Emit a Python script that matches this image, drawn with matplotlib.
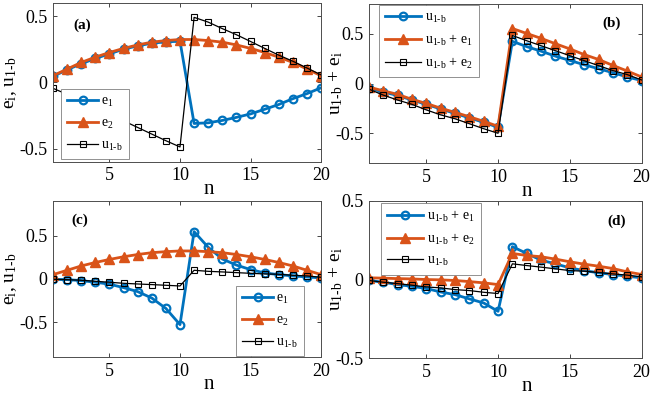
import numpy as np
import matplotlib
matplotlib.use("Agg")
import matplotlib.pyplot as plt
from matplotlib.ticker import FuncFormatter

plt.rcParams['font.family'] = ['Liberation Serif', 'DejaVu Serif']
plt.rcParams['mathtext.fontset'] = 'custom'
plt.rcParams['mathtext.rm'] = 'Liberation Serif'
plt.rcParams['mathtext.it'] = 'Liberation Serif:italic'
plt.rcParams['mathtext.bf'] = 'Liberation Serif:bold'

n = np.arange(1, 21)

# panel (a)
a_e1 = [0.045, 0.095, 0.14, 0.18, 0.215, 0.25, 0.275, 0.295, 0.305, 0.31,
        -0.31, -0.305, -0.287, -0.264, -0.238, -0.203, -0.167, -0.123, -0.085, -0.041]
e2 = [0.05, 0.10, 0.15, 0.19, 0.225, 0.256, 0.282, 0.303, 0.315, 0.323,
      0.323, 0.315, 0.303, 0.282, 0.256, 0.225, 0.19, 0.15, 0.10, 0.05]
a_u = [-0.045, -0.09, -0.14, -0.19, -0.24, -0.29, -0.34, -0.39, -0.44, -0.487,
       0.49, 0.454, 0.405, 0.359, 0.308, 0.256, 0.205, 0.159, 0.108, 0.056]

# panel (b)
b_u = [-0.045, -0.085, -0.12, -0.165, -0.21, -0.255, -0.30, -0.345, -0.39, -0.44,
       0.424, 0.371, 0.325, 0.275, 0.232, 0.189, 0.149, 0.109, 0.066, 0.03]
b_ue1 = [-0.036, -0.073, -0.109, -0.159, -0.2, -0.248, -0.29, -0.334, -0.38, -0.43,
         0.553, 0.503, 0.454, 0.4, 0.348, 0.291, 0.242, 0.182, 0.126, 0.066]
b_ue2 = [-0.056, -0.116, -0.166, -0.209, -0.265, -0.315, -0.354, -0.404, -0.454, -0.5,
         0.483, 0.43, 0.38, 0.33, 0.28, 0.23, 0.18, 0.13, 0.09, 0.036]

# panel (c)
c_e1 = [-0.004, -0.008, -0.019, -0.038, -0.06, -0.1, -0.146, -0.22, -0.34, -0.527,
        0.546, 0.365, 0.23, 0.16, 0.108, 0.069, 0.05, 0.035, 0.023, 0.012]
c_u = [-0.004, -0.008, -0.015, -0.027, -0.038, -0.05, -0.058, -0.065, -0.073, -0.081,
       0.1, 0.088, 0.081, 0.073, 0.065, 0.058, 0.054, 0.042, 0.035, 0.019]

# panel (d)
d_ue1 = [-0.006, -0.017, -0.032, -0.043, -0.057, -0.079, -0.096, -0.123, -0.149, -0.202,
         0.209, 0.166, 0.123, 0.1, 0.074, 0.057, 0.043, 0.032, 0.021, 0.011]
d_ue2 = [0.011, 0.009, 0.006, 0.004, 0.0, -0.002, -0.006, -0.013, -0.021, -0.032,
         0.166, 0.153, 0.145, 0.13, 0.113, 0.098, 0.085, 0.07, 0.049, 0.032]
d_u = [-0.006, -0.017, -0.026, -0.036, -0.047, -0.053, -0.064, -0.07, -0.081, -0.089,
       0.1, 0.089, 0.079, 0.068, 0.057, 0.053, 0.045, 0.036, 0.028, 0.017]

U = r'u$_{\rm 1\text{-}b}$'
lab_e1 = r'e$_{\rm 1}$'
lab_e2 = r'e$_{\rm 2}$'
lab_ue1 = U + r' + e$_{\rm 1}$'
lab_ue2 = U + r' + e$_{\rm 2}$'
ylab_left = r'e$_{\rm i}$, ' + U
ylab_right = U + r' + e$_{\rm i}$'

BLUE = '#0072BD'
ORANGE = '#D95319'

blue_kw = dict(color=BLUE, lw=2.0, marker='o', ms=5.5, mfc='none', mew=1.6)
orange_kw = dict(color=ORANGE, lw=2.0, marker='^', ms=6.5, mfc=ORANGE, mew=1.0)
black_kw = dict(color='black', lw=0.9, marker='s', ms=4.2, mfc='none', mew=0.8)

fig = plt.figure(figsize=(6.54, 3.94), dpi=100)
ax_a = fig.add_axes([0.081, 0.589, 0.410, 0.404])
ax_b = fig.add_axes([0.564, 0.586, 0.417, 0.404])
ax_c = fig.add_axes([0.081, 0.094, 0.410, 0.396])
ax_d = fig.add_axes([0.564, 0.091, 0.417, 0.399])

fmt = FuncFormatter(lambda v, p: ('%g' % v).replace('\u2212', '-'))

panels = [
    (ax_a, [(a_e1, blue_kw, lab_e1), (e2, orange_kw, lab_e2), (a_u, black_kw, U)],
     (-0.6, 0.6), ylab_left, 0, '(a)', (0.11, 0.86), 2.2,
     dict(loc='lower left', bbox_to_anchor=(0.03, 0.02))),
    (ax_b, [(b_u, blue_kw, U), (b_ue1, orange_kw, lab_ue1), (b_ue2, black_kw, lab_ue2)],
     (-0.8, 0.8), ylab_right, -7, '(b)', (0.89, 0.88), 2.6,
     dict(loc='upper left', bbox_to_anchor=(0.037, 0.995))),
    (ax_c, [(c_e1, blue_kw, lab_e1), (e2, orange_kw, lab_e2), (c_u, black_kw, U)],
     (-0.9, 0.9), ylab_left, 0, '(c)', (0.10, 0.875), 2.2,
     dict(loc='lower right', bbox_to_anchor=(0.937, 0.006))),
    (ax_d, [(d_ue1, blue_kw, lab_ue1), (d_ue2, orange_kw, lab_ue2), (d_u, black_kw, U)],
     (-0.5, 0.5), ylab_right, -7, '(d)', (0.91, 0.87), 2.6,
     dict(loc='upper left', bbox_to_anchor=(0.044, 0.99))),
]

for ax, series, ylim, ylab, ypad, tag, tagpos, hlen, legkw in panels:
    for y, kw, lab in series:
        ax.plot(n, y, label=lab, **kw)
    ax.set_xlim(1, 20)
    ax.set_ylim(*ylim)
    ax.set_xticks([5, 10, 15, 20])
    ax.set_yticks([-0.5, 0, 0.5])
    ax.yaxis.set_major_formatter(fmt)
    ax.tick_params(direction='in', top=True, right=True, length=3,
                   width=0.6, labelsize=13, colors='0.15', labelcolor='black', pad=4)
    for s in ax.spines.values():
        s.set_color('0.3')
        s.set_linewidth(0.7)
    ax.set_xlabel('n', fontsize=15, labelpad=-3, x=0.58)
    ax.set_ylabel(ylab, fontsize=14, labelpad=ypad)
    ax.text(tagpos[0], tagpos[1], tag, transform=ax.transAxes, fontsize=11,
            fontweight='bold', ha='center', va='center')
    leg = ax.legend(fontsize=10, borderaxespad=0, handlelength=hlen, handletextpad=0.25,
                    labelspacing=0.55, fancybox=False, framealpha=1, edgecolor='0.5',
                    borderpad=0.45, **legkw)
    leg.get_frame().set_linewidth(0.6)

fig.savefig('out.png', dpi=100)
